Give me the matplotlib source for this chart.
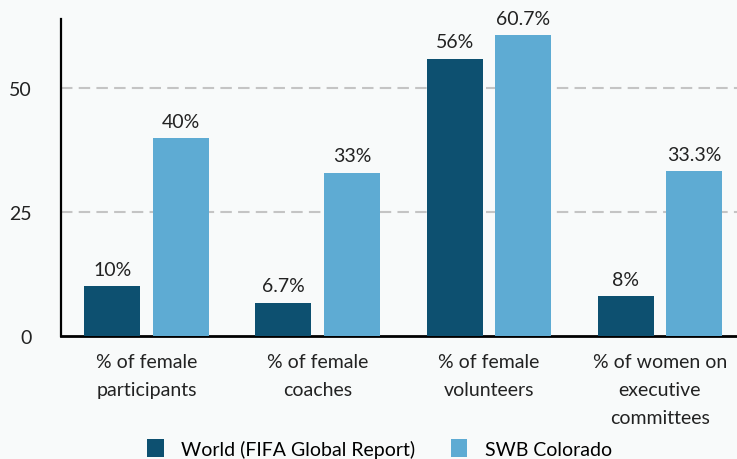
import matplotlib
matplotlib.use("Agg")
import matplotlib.pyplot as plt
import numpy as np

categories = ["% of female\nparticipants", "% of female\ncoaches",
              "% of female\nvolunteers", "% of women on\nexecutive\ncommittees"]
world = [10, 6.7, 56, 8]
swb = [40, 33, 60.7, 33.3]
world_labels = ["10%", "6.7%", "56%", "8%"]
swb_labels = ["40%", "33%", "60.7%", "33.3%"]
series_names = ["World (FIFA Global Report)", "SWB Colorado"]
yticks = [0, 25, 50]

plt.rcParams['font.family'] = ['Lato', 'DejaVu Sans']
bg = '#f8fafa'
dark = '#0d5070'
light = '#5eabd3'
fs = 14

fig = plt.figure(figsize=(7.37, 4.6), dpi=100, facecolor=bg)
ax = fig.add_axes([61/737, 1-337/460, 1-61/737, (337-20)/460], facecolor=bg)

x = np.arange(len(categories))
w = 0.327
off = 0.2
b1 = ax.bar(x - off, world, w, color=dark, label=series_names[0], zorder=3)
b2 = ax.bar(x + off, swb, w, color=light, label=series_names[1], zorder=3)

for bars, labs in ((b1, world_labels), (b2, swb_labels)):
    for r, t in zip(bars, labs):
        ax.annotate(t, (r.get_x() + r.get_width()/2, r.get_height()),
                    xytext=(0, 6), textcoords='offset points',
                    ha='center', va='bottom', fontsize=fs, color='#222222')

ax.set_xlim(-0.5, 3.45)
ax.set_ylim(0, 64)
ax.set_yticks(yticks)
ax.set_yticklabels([str(v) for v in yticks], fontsize=fs, color='#222222')
ax.set_xticks(x)
ax.set_xticklabels(categories, fontsize=fs, color='#222222', linespacing=1.8)
ax.tick_params(axis='both', length=0)
ax.tick_params(axis='y', pad=21)
ax.tick_params(axis='x', pad=12)
for v in yticks[1:]:
    ax.axhline(v, color='#c4c4c4', lw=1.5, ls=(0, (5.5, 3)), zorder=1)
for s in ('top', 'right'):
    ax.spines[s].set_visible(False)
ax.spines['left'].set_linewidth(1.6)
ax.spines['bottom'].set_linewidth(2)
ax.spines['left'].set_color('black')
ax.spines['bottom'].set_color('black')

fig.legend(handles=[b1, b2], labels=series_names, loc='lower center',
           bbox_to_anchor=(0.515, -0.035), ncol=2, frameon=False, fontsize=fs,
           handlelength=0.85, handleheight=1.1, columnspacing=1.8, handletextpad=0.9)

fig.savefig("out.png", dpi=100, facecolor=bg)
